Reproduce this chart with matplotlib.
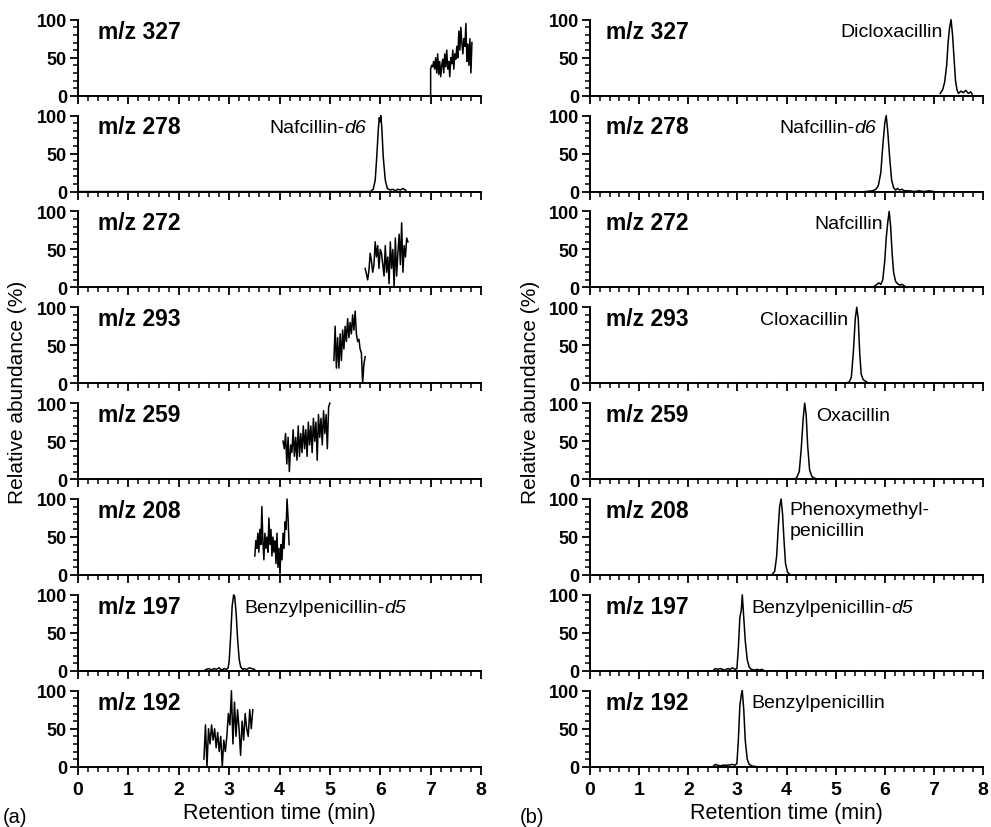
import numpy as np
import matplotlib.pyplot as plt
from matplotlib.ticker import MultipleLocator

plt.rcParams['font.family'] = ['Liberation Sans', 'DejaVu Sans']

mz_labels = ['m/z 327', 'm/z 278', 'm/z 272', 'm/z 293',
             'm/z 259', 'm/z 208', 'm/z 197', 'm/z 192']

# ---- (a) blank / low level traces ----
a327_range = (7.0, 7.82)
a327_y = [35, 40, 38, 45, 35, 50, 30, 55, 28, 45, 25, 40, 48, 30, 55, 38, 60, 35, 45, 25,
          50, 42, 60, 35, 55, 48, 65, 50, 85, 60, 90, 70, 55, 75, 65, 95, 45, 68, 40, 75, 30, 70]

a278_t = [0, 5.8, 5.86, 5.9, 5.93, 5.96, 5.98, 6.0, 6.01, 6.03, 6.06, 6.1, 6.14,
          6.2, 6.25, 6.3, 6.35, 6.4, 6.45, 6.5, 6.52]
a278_y = [0, 0, 3, 15, 45, 80, 97, 92, 100, 85, 45, 15, 4, 2, 3, 1, 3, 2, 4, 2, 0]

a272_range = (5.70, 6.55)
a272_y = [25, 18, 10, 22, 45, 35, 20, 30, 60, 40, 55, 25, 50, 45, 30, 15, 55, 20, 40, 5,
          60, 25, 50, 0, 65, 15, 45, 70, 30, 85, 20, 55, 40, 65, 60]

a293_range = (5.08, 5.70)
a293_y = [30, 75, 20, 60, 20, 65, 30, 70, 45, 75, 55, 85, 60, 80, 65, 90, 70, 95, 65, 55,
          58, 45, 40, 0, 25, 35]

a259_range = (4.07, 5.0)
a259_y = [50, 40, 60, 20, 55, 10, 45, 35, 65, 30, 55, 25, 70, 30, 60, 35, 70, 40, 65, 30,
          75, 45, 70, 35, 80, 50, 75, 25, 85, 55, 80, 45, 90, 60, 85, 40, 95, 100]

a208_range = (3.51, 4.19)
a208_y = [25, 45, 35, 55, 30, 60, 40, 90, 45, 20, 55, 35, 50, 30, 75, 40, 60, 25, 50, 30,
          45, 15, 55, 10, 35, 0, 40, 20, 55, 35, 70, 60, 100, 75, 40]

a197_t = [0, 2.5, 2.55, 2.6, 2.65, 2.7, 2.75, 2.8, 2.85, 2.9, 2.95, 2.98, 3.0, 3.03, 3.06,
          3.09, 3.11, 3.14, 3.17, 3.2, 3.23, 3.27, 3.3, 3.35, 3.4, 3.45, 3.5, 3.52]
a197_y = [0, 0, 2, 3, 1, 3, 2, 4, 1, 3, 2, 4, 12, 45, 85, 100, 98, 75, 40, 15, 5, 2, 3, 2,
          4, 3, 2, 0]

a192_range = (2.5, 3.47)
a192_y = [10, 55, 0, 50, 30, 55, 35, 50, 25, 45, 20, 40, 0, 35, 20, 40, 70, 55, 100, 30,
          85, 40, 75, 50, 15, 60, 35, 70, 50, 40, 75, 50, 75]

# ---- (b) spiked traces ----
b327_t = [7.13, 7.18, 7.22, 7.26, 7.29, 7.32, 7.35, 7.38, 7.41, 7.44, 7.47, 7.5, 7.55,
          7.6, 7.65, 7.7, 7.75, 7.78]
b327_y = [3, 8, 18, 40, 70, 90, 100, 80, 50, 20, 8, 3, 6, 4, 7, 3, 5, 2]

b278_t = [5.6, 5.75, 5.82, 5.87, 5.92, 5.96, 6.0, 6.03, 6.06, 6.1, 6.14, 6.18, 6.22,
          6.26, 6.3, 6.35, 6.4, 6.5, 6.6, 6.7, 6.8, 6.9, 7.0]
b278_y = [0, 1, 3, 8, 25, 60, 90, 100, 80, 45, 15, 5, 2, 4, 2, 3, 1, 1, 0, 1, 0, 1, 0]

b272_t = [5.75, 5.82, 5.88, 5.92, 5.96, 6.0, 6.03, 6.06, 6.09, 6.12, 6.15, 6.18, 6.22,
          6.26, 6.3, 6.35, 6.4, 6.45]
b272_y = [0, 3, 6, 4, 10, 35, 65, 85, 100, 80, 45, 20, 8, 5, 3, 4, 2, 0]

b293_t = [5.2, 5.28, 5.32, 5.36, 5.4, 5.43, 5.46, 5.49, 5.52, 5.56, 5.6, 5.65, 5.7]
b293_y = [0, 2, 8, 40, 85, 100, 85, 40, 12, 5, 3, 1, 0]

b259_t = [4.1, 4.2, 4.26, 4.3, 4.34, 4.37, 4.4, 4.43, 4.47, 4.52, 4.58, 4.65]
b259_y = [0, 1, 10, 40, 80, 100, 85, 45, 12, 3, 1, 0]

b208_t = [3.7, 3.76, 3.8, 3.83, 3.86, 3.89, 3.92, 3.95, 3.98, 4.02, 4.06, 4.1]
b208_y = [0, 5, 25, 60, 90, 100, 80, 45, 15, 4, 1, 0]

b197_t = [2.5, 2.55, 2.6, 2.65, 2.7, 2.75, 2.8, 2.85, 2.9, 2.95, 2.99, 3.02, 3.05, 3.08,
          3.1, 3.13, 3.16, 3.2, 3.24, 3.28, 3.35, 3.4, 3.45, 3.5, 3.55]
b197_y = [0, 3, 2, 3, 2, 1, 3, 2, 4, 2, 3, 30, 70, 80, 100, 70, 40, 15, 5, 2, 1, 2, 1, 2, 0]

b192_t = [2.5, 2.55, 2.6, 2.65, 2.7, 2.8, 2.9, 2.95, 2.99, 3.02, 3.05, 3.08, 3.1, 3.13,
          3.16, 3.2, 3.24, 3.3, 3.4]
b192_y = [0, 3, 2, 1, 2, 2, 3, 2, 4, 35, 80, 95, 100, 75, 35, 10, 3, 1, 0]

# compound names: (panel index, text, italic suffix, x, ha)
a_names = [(1, 'Nafcillin-', 'd6', 5.72, 'right'),
           (6, 'Benzylpenicillin-', 'd5', 3.3, 'left')]
b_names = [(0, 'Dicloxacillin', '', 7.18, 'right'),
           (1, 'Nafcillin-', 'd6', 5.82, 'right'),
           (2, 'Nafcillin', '', 5.96, 'right'),
           (3, 'Cloxacillin', '', 5.26, 'right'),
           (4, 'Oxacillin', '', 4.6, 'left'),
           (5, 'Phenoxymethyl-\npenicillin', '', 4.06, 'left'),
           (6, 'Benzylpenicillin-', 'd5', 3.28, 'left'),
           (7, 'Benzylpenicillin', '', 3.28, 'left')]


def grid(rng, vals):
    return np.linspace(rng[0], rng[1], len(vals))


def name_label(fig, ax, txt, suffix, x, ha):
    fs = 14
    if '\n' in txt:
        ax.text(x, 97, txt, fontsize=fs, va='top', ha=ha, linespacing=1.3)
        return
    if not suffix:
        ax.text(x, 84, txt, fontsize=fs, va='center', ha=ha)
        return
    # measure the italic suffix so that the combined label can be right aligned
    main = ax.text(x, 84, txt, fontsize=fs, va='center', ha='left')
    suf = ax.annotate(suffix, xy=(1, 0), xycoords=main, fontsize=fs, style='italic',
                      va='bottom', ha='left')
    if ha == 'right':
        r = fig.canvas.get_renderer()
        w = main.get_window_extent(r).width + suf.get_window_extent(r).width
        x_disp = ax.transData.transform((x, 84))[0] - w
        x_data = ax.transData.inverted().transform((x_disp, 0))[0]
        main.set_x(x_data)


a_traces = [
    ([a327_range[0]] + list(grid(a327_range, a327_y)), [0] + a327_y),
    (a278_t, a278_y),
    (grid(a272_range, a272_y), a272_y),
    (grid(a293_range, a293_y), a293_y),
    (grid(a259_range, a259_y), a259_y),
    (grid(a208_range, a208_y), a208_y),
    (a197_t, a197_y),
    (grid(a192_range, a192_y), a192_y),
]
b_traces = [(b327_t, b327_y), (b278_t, b278_y), (b272_t, b272_y), (b293_t, b293_y),
            (b259_t, b259_y), (b208_t, b208_y), (b197_t, b197_y), (b192_t, b192_y)]

W, H = 991, 828
fig = plt.figure(figsize=(W / 100, H / 100), dpi=100)

cols = [(78, 481, a_traces, a_names, 0.4), (590, 983, b_traces, b_names, 0.32)]
for x0, x1, traces, names, mzx in cols:
    for i in range(8):
        zero_px = 96.7 + 95.86 * i
        h_px = 76.0
        ax = fig.add_axes([x0 / W, 1 - zero_px / H, (x1 - x0) / W, h_px / H])
        t, y = traces[i]
        ax.plot(t, y, color='black', lw=1.1, clip_on=False)
        ax.set_xlim(0, 8)
        ax.set_ylim(0, 100)
        for s in ['top', 'right']:
            ax.spines[s].set_visible(False)
        for s in ['left', 'bottom']:
            ax.spines[s].set_linewidth(1.4)
        ax.xaxis.set_major_locator(MultipleLocator(1))
        ax.xaxis.set_minor_locator(MultipleLocator(0.2))
        ax.yaxis.set_major_locator(MultipleLocator(50))
        ax.yaxis.set_minor_locator(MultipleLocator(10))
        ax.tick_params(which='major', length=6, width=1.3, direction='out')
        ax.tick_params(which='minor', length=3.5, width=1.1, direction='out')
        ax.tick_params(axis='y', labelsize=13, pad=2)
        ax.tick_params(axis='x', labelsize=14, pad=4)
        for lab in ax.get_yticklabels() + ax.get_xticklabels():
            lab.set_fontweight('bold')
        if i < 7:
            ax.set_xticklabels([])
        ax.text(mzx, 85, mz_labels[i], fontsize=16.5, fontweight='bold', va='center', ha='left')
        for idx, txt, suffix, tx, ha in names:
            if idx == i:
                name_label(fig, ax, txt, suffix, tx, ha)
        if i == 7:
            ax.set_xlabel('Retention time (min)', fontsize=15.5, labelpad=3)

fig.text(18 / W, 1 - 392 / H, 'Relative abundance (%)', rotation=90, fontsize=15,
         ha='center', va='center')
fig.text(530 / W, 1 - 392 / H, 'Relative abundance (%)', rotation=90, fontsize=15,
         ha='center', va='center')
fig.text(3 / W, 1 - 818 / H, '(a)', fontsize=14.5, ha='left', va='center')
fig.text(520 / W, 1 - 818 / H, '(b)', fontsize=14.5, ha='left', va='center')

fig.savefig('out.png', dpi=100)
